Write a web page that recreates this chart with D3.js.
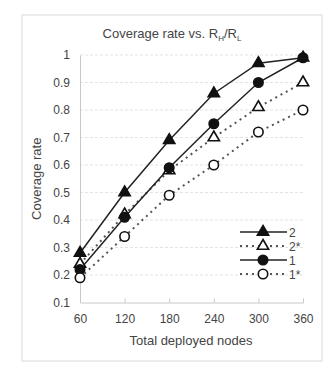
<!DOCTYPE html>
<html>
<head>
<meta charset="utf-8">
<script src="https://cdn.jsdelivr.net/npm/d3@7"></script>
<style>
  body { margin: 0; background: #fff; }
  text { font-family: "Liberation Sans", Arial, sans-serif; fill: #444; }
</style>
</head>
<body>
<svg id="chart" width="333" height="367"></svg>
<script>
const nodes = [60, 120, 180, 240, 300, 360];
const yTicks = [0.1, 0.2, 0.3, 0.4, 0.5, 0.6, 0.7, 0.8, 0.9, 1];
const s2 = [0.28, 0.50, 0.69, 0.86, 0.97, 0.99];
const s2star = [0.24, 0.42, 0.58, 0.70, 0.81, 0.90];
const s1 = [0.22, 0.41, 0.59, 0.75, 0.90, 0.99];
const s1star = [0.19, 0.34, 0.49, 0.60, 0.72, 0.80];
const seriesNames = ["2", "2*", "1", "1*"];

const series = [
  {name: seriesNames[0], values: s2, dash: null, shape: "tri", fill: "#111"},
  {name: seriesNames[1], values: s2star, dash: "2,4", shape: "tri", fill: "#fff"},
  {name: seriesNames[2], values: s1, dash: null, shape: "circ", fill: "#111"},
  {name: seriesNames[3], values: s1star, dash: "2,4", shape: "circ", fill: "#fff"}
];

const svg = d3.select("#chart");

// outer frame
svg.append("rect")
  .attr("x", 22).attr("y", 15)
  .attr("width", 300).attr("height", 346)
  .attr("fill", "#fff")
  .attr("stroke", "#d9d9d9");

const x = d3.scaleLinear().domain([60, 360]).range([80, 303]);
const y = d3.scaleLinear().domain([0.1, 1]).range([302.5, 55]);

// grid
svg.append("g")
  .selectAll("line")
  .data(yTicks.slice(1))
  .join("line")
  .attr("x1", x(60)).attr("x2", x(360))
  .attr("y1", d => y(d)).attr("y2", d => y(d))
  .attr("stroke", "#e3e3e3")
  .attr("stroke-dasharray", "3,2");

// x axis
const xAxis = d3.axisBottom(x).tickValues(nodes).tickSize(-4).tickPadding(12);
const gx = svg.append("g")
  .attr("transform", `translate(0,${y(0.1)})`)
  .call(xAxis);
gx.select(".domain").attr("stroke", "#c8c8c8");
gx.selectAll(".tick line").attr("stroke", "#c8c8c8");
gx.selectAll("text").attr("font-size", 12).attr("fill", "#444");

// y axis
const yAxis = d3.axisLeft(y).tickValues(yTicks).tickSize(0).tickPadding(10)
  .tickFormat(d => d3.format("")(d));
const gy = svg.append("g")
  .attr("transform", `translate(${x(60)},0)`)
  .call(yAxis);
gy.select(".domain").attr("stroke", "#c8c8c8");
gy.selectAll("text").attr("font-size", 12).attr("fill", "#444");

// title
const title = svg.append("text")
  .attr("x", 172).attr("y", 38)
  .attr("text-anchor", "middle")
  .attr("font-size", 13);
title.append("tspan").text("Coverage rate vs. R");
title.append("tspan").attr("font-size", 8).attr("dy", 3).text("H");
title.append("tspan").attr("dy", -3).text("/R");
title.append("tspan").attr("font-size", 8).attr("dy", 3).text("L");

// axis titles
svg.append("text")
  .attr("x", 191).attr("y", 345)
  .attr("text-anchor", "middle")
  .attr("font-size", 13)
  .text("Total deployed nodes");

svg.append("text")
  .attr("transform", `translate(41,${y(0.55)}) rotate(-90)`)
  .attr("text-anchor", "middle")
  .attr("font-size", 13)
  .text("Coverage rate");

const line = d3.line()
  .x((d, i) => x(nodes[i]))
  .y(d => y(d));

const triPath = d3.symbol().type(d3.symbolTriangle).size(55);
const circPath = d3.symbol().type(d3.symbolCircle).size(70);

function drawMarker(g, shape, fill, cx, cy) {
  g.append("path")
    .attr("d", shape === "tri" ? triPath() : circPath())
    .attr("transform", `translate(${cx},${cy})`)
    .attr("fill", fill)
    .attr("stroke", "#111")
    .attr("stroke-width", 1.6);
}

const gs = svg.append("g");
series.forEach(s => {
  gs.append("path")
    .datum(s.values)
    .attr("d", line)
    .attr("fill", "none")
    .attr("stroke", s.dash ? "#555" : "#222")
    .attr("stroke-width", s.dash ? 2 : 1.5)
    .attr("stroke-dasharray", s.dash);
});
series.forEach(s => {
  s.values.forEach((v, i) => drawMarker(gs, s.shape, s.fill, x(nodes[i]), y(v)));
});

// legend
const legend = svg.append("g");
series.forEach((s, i) => {
  const ly = 232 + i * 14;
  legend.append("line")
    .attr("x1", 240).attr("x2", 287)
    .attr("y1", ly).attr("y2", ly)
    .attr("stroke", s.dash ? "#555" : "#222")
    .attr("stroke-width", s.dash ? 2 : 1.5)
    .attr("stroke-dasharray", s.dash);
  drawMarker(legend, s.shape, s.fill, 263, ly);
  legend.append("text")
    .attr("x", 289).attr("y", ly + 4.5)
    .attr("font-size", 12)
    .text(s.name);
});
</script>
</body>
</html>
